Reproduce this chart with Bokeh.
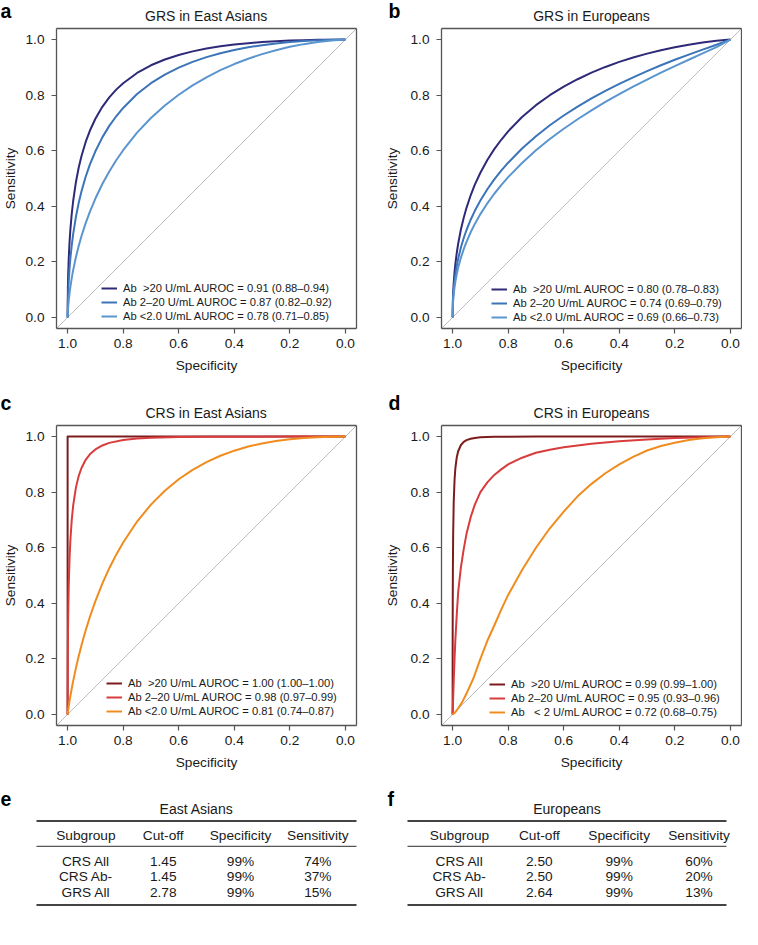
from bokeh.plotting import figure
from bokeh.models import (Range1d, FixedTicker, PrintfTickFormatter, Slope, Legend,
                          LegendItem, ColumnDataSource, LinearAxis)
from bokeh.layouts import column, row
from bokeh.embed import file_html
from bokeh.resources import INLINE
from bokeh.core.properties import value

# ---------------- data ----------------
tick_values = [0.0, 0.2, 0.4, 0.6, 0.8, 1.0]

spec_grid = [1.0, 0.999, 0.998, 0.996, 0.993, 0.99, 0.985, 0.98, 0.97, 0.96, 0.95, 0.935,
             0.92, 0.9, 0.875, 0.85, 0.825, 0.8, 0.75, 0.7, 0.65, 0.6, 0.55, 0.5, 0.45,
             0.4, 0.35, 0.3, 0.25, 0.2, 0.15, 0.1, 0.05, 0.0]

# GRS in East Asians (sensitivity at spec_grid)
grs_ea_gt20 = [0, .1075, .152, .2113, .272, .317, .3745, .419, .4876, .5394, .581, .6316,
               .6718, .715, .758, .792, .820, .843, .880, .9076, .9285, .9448, .9576, .9678,
               .9759, .9823, .9873, .9912, .9942, .9964, .998, .9991, .9998, 1.0]
grs_ea_2to20 = [0, .0594, .0888, .131, .177, .213, .261, .300, .3628, .4125, .4542, .5064,
                .5497, .598, .648, .6894, .724, .754, .804, .843, .874, .899, .9198, .937,
                .951, .9627, .9722, .980, .9863, .9912, .9949, .9975, .9993, 1.0]
grs_ea_lt2 = [0, .0233, .0377, .0603, .0874, .110, .1423, .170, .2174, .2575, .2929, .3395,
              .380, .4278, .480, .5255, .5655, .6018, .665, .7177, .7627, .8015, .835, .8643,
              .890, .912, .9312, .9478, .962, .974, .9837, .9914, .997, 1.0]

# GRS in Europeans
grs_eu_gt20 = [0, .0619, .088, .1243, .163, .193, .2327, .265, .3174, .359, .3944, .4396,
               .4777, .5207, .5667, .6057, .6394, .6697, .7214, .764, .7998, .8307, .8574,
               .881, .9016, .9197, .9356, .9496, .9619, .9726, .9818, .9895, .9957, 1.0]
grs_eu_2to20 = [0, .0537, .0742, .1022, .1322, .155, .186, .2113, .2524, .2857, .3146, .3516,
                .3836, .4207, .4614, .4968, .5283, .5569, .608, .652, .6915, .7267, .7586,
                .7881, .8154, .8406, .8643, .8867, .9076, .9274, .9461, .9641, .9814, 1.0]
grs_eu_lt2 = [0, .0428, .0599, .0835, .109, .129, .156, .1783, .2153, .2457, .272, .3065,
              .3365, .3718, .4106, .4451, .476, .5048, .556, .6014, .642, .679, .7133, .7454,
              .7755, .8037, .8305, .856, .8808, .9046, .9276, .9502, .973, 1.0]

# CRS in East Asians
crs_ea_gt20_spec = [1.0, 1.0, 0.0]
crs_ea_gt20 = [0.0, 1.0, 1.0]
crs_ea_2to20_spec = [1.0, 0.9999, 0.9998, 0.9995, 0.999, 0.998, 0.996, 0.993, 0.99, 0.985,
                     0.98, 0.97, 0.96, 0.95, 0.935, 0.92, 0.9, 0.875, 0.85, 0.8, 0.75, 0.7,
                     0.6, 0.5, 0.4, 0.2, 0.0]
crs_ea_2to20 = [0, .0688, .1053, .1767, .2524, .348, .461, .562, .628, .7016, .7517, .8173,
                .8586, .887, .9165, .9361, .9539, .9682, .9774, .988, .9933, .9962, .9987,
                .9996, .9999, 1.0, 1.0]
crs_ea_lt2 = [0, .0073, .0146, .0284, .0477, .0658, .094, .1198, .1673, .2101, .2492, .3026,
              .3505, .4075, .471, .5263, .575, .619, .6943, .7552, .8051, .8464, .8802,
              .9082, .9311, .9494, .9641, .9755, .9843, .9908, .9953, .9981, .9996, 1.0]

# CRS in Europeans
crs_eu_gt20_spec = [1.0, .9999, .9998, .9995, .999, .998, .996, .993, .99, .985, .98, .97,
                    .96, .95, .935, .92, .9, .875, .85, .8, .7, .5, 0.0]
crs_eu_gt20 = [0, .1897, .271, .4063, .526, .649, .765, .8447, .887, .9258, .9473, .9698,
               .981, .9872, .9924, .9952, .9973, .9985, .9992, .9997, 1.0, 1.0, 1.0]
crs_eu_2to20_spec = [1.0, .999, .998, .996, .993, .99, .985, .98, .97, .96, .95, .935, .92,
                     .9, .875, .85, .825, .8, .75, .7, .65, .6, .5, .4, .3, .2, .1, 0.0]
crs_eu_2to20 = [0, .03, .06, .12, .20, .27, .36, .44, .53, .595, .65, .71, .755, .80, .835,
                .862, .882, .90, .924, .942, .953, .962, .974, .983, .99, .995, .998, 1.0]
crs_eu_lt2_spec = [1.0, .99, .98, .965, .95, .925, .9, .875, .85, .825, .8, .75, .7, .65,
                   .6, .55, .5, .45, .4, .35, .3, .25, .2, .15, .1, .05, 0.0]
crs_eu_lt2 = [0, .008, .022, .045, .075, .13, .20, .265, .32, .377, .43, .52, .60, .67, .73,
              .785, .83, .868, .90, .927, .95, .966, .978, .988, .994, .998, 1.0]

labels_grs_ea = ["Ab\u00a0 >20 U/mL AUROC = 0.91 (0.88\u20130.94)",
                 "Ab 2\u201320 U/mL AUROC = 0.87 (0.82\u20130.92)",
                 "Ab <2.0 U/mL AUROC = 0.78 (0.71\u20130.85)"]
labels_grs_eu = ["Ab\u00a0 >20 U/mL AUROC = 0.80 (0.78\u20130.83)",
                 "Ab 2\u201320 U/mL AUROC = 0.74 (0.69\u20130.79)",
                 "Ab <2.0 U/mL AUROC = 0.69 (0.66\u20130.73)"]
labels_crs_ea = ["Ab\u00a0 >20 U/mL AUROC = 1.00 (1.00\u20131.00)",
                 "Ab 2\u201320 U/mL AUROC = 0.98 (0.97\u20130.99)",
                 "Ab <2.0 U/mL AUROC = 0.81 (0.74\u20130.87)"]
labels_crs_eu = ["Ab\u00a0 >20 U/mL AUROC = 0.99 (0.99\u20131.00)",
                 "Ab 2\u201320 U/mL AUROC = 0.95 (0.93\u20130.96)",
                 "Ab\u00a0\u00a0 < 2 U/mL AUROC = 0.72 (0.68\u20130.75)"]

table_cols = ["Subgroup", "Cut-off", "Specificity", "Sensitivity"]
subgroups = ["CRS All", "CRS Ab-", "GRS All"]
ea_cutoff = [1.45, 1.45, 2.78]
ea_specificity = [99, 99, 99]
ea_sensitivity = [74, 37, 15]
eu_cutoff = [2.50, 2.50, 2.64]
eu_specificity = [99, 99, 99]
eu_sensitivity = [60, 20, 13]

# ---------------- style ----------------
FONT = "Liberation Sans"
TXT = "#1a1a1a"
FRAME = "#555555"
BLUES = ["#2e2a78", "#3b74b8", "#5b95cf"]
REDS = ["#7d1c1c", "#d83c3c", "#f08c1e"]


def bare(p):
    p.xaxis.visible = False
    p.yaxis.visible = False
    p.grid.visible = False
    p.outline_line_color = None


def strip_fig(width, height, letter, letter_x, letter_y, title, title_x, title_y):
    p = figure(width=width, height=height, output_backend="svg", toolbar_location=None,
               x_range=Range1d(0, width), y_range=Range1d(0, height), min_border=0)
    bare(p)
    p.text(x=[letter_x], y=[letter_y], text=[letter], text_font=value(FONT),
           text_font_size="19.5px", text_font_style="bold", text_color="#000000",
           text_align="left", text_baseline="middle")
    p.text(x=[title_x], y=[title_y], text=[title], text_font=value(FONT),
           text_font_size="14px", text_color=TXT, text_align="center",
           text_baseline="middle")
    return p


def roc_fig(width, height, bl, br, bt, bb, curves, labels, colors, leg_xy, ylab_standoff):
    p = figure(width=width, height=height, output_backend="svg", toolbar_location=None,
               x_range=Range1d(1.04, -0.04), y_range=Range1d(-0.04, 1.04),
               min_border_left=bl, min_border_right=br, min_border_top=bt,
               min_border_bottom=bb)
    p.grid.visible = False
    p.outline_line_color = None
    for ax in (p.xaxis, p.yaxis):
        ax.ticker = FixedTicker(ticks=tick_values)
        ax.formatter = PrintfTickFormatter(format="%.1f")
        ax.axis_line_color = FRAME
        ax.axis_line_width = 1.3
        ax.major_tick_in = 0
        ax.major_tick_out = 5
        ax.major_tick_line_color = FRAME
        ax.major_tick_line_width = 1.2
        ax.minor_tick_line_color = None
        ax.major_label_text_font = FONT
        ax.major_label_text_font_size = "13.7px"
        ax.major_label_text_color = TXT
        ax.axis_label_text_font = FONT
        ax.axis_label_text_font_size = "13.7px"
        ax.axis_label_text_font_style = "normal"
        ax.axis_label_text_color = TXT
    p.xaxis.axis_label = "Specificity"
    p.yaxis.axis_label = "Sensitivity"
    p.xaxis.major_label_standoff = 5
    p.yaxis.major_label_standoff = 7
    p.xaxis.axis_label_standoff = 7
    p.yaxis.axis_label_standoff = ylab_standoff
    for loc in ("above", "right"):
        ax = LinearAxis(ticker=FixedTicker(ticks=[]), major_tick_in=0, major_tick_out=0,
                        minor_tick_in=0, minor_tick_out=0, major_label_standoff=0,
                        axis_label_standoff=0, major_label_text_font_size="0px",
                        axis_line_color=FRAME, axis_line_width=1.3)
        p.add_layout(ax, loc)

    p.add_layout(Slope(gradient=-1, y_intercept=1, line_color="#bdbdbd", line_width=1,
                       level="underlay"))
    items = []
    for (sx, sy), lab, col in zip(curves, labels, colors):
        r = p.line(sx, sy, line_color=col, line_width=2, line_join="round")
        items.append(LegendItem(label=lab, renderers=[r]))
    leg = Legend(items=items, location=leg_xy, border_line_color=None,
                 background_fill_alpha=0, padding=0, margin=0, spacing=2,
                 glyph_width=16, glyph_height=12, label_height=12, label_standoff=6,
                 label_text_font=FONT, label_text_font_size="11.2px",
                 label_text_color=TXT)
    p.add_layout(leg)
    return p


ROW_PX = 15.25


def table_fig(width, rule_left, rule_right, x_start, x_end, cutoff, specificity,
              sensitivity):
    """x_start/x_end: column-index values at the ends of the horizontal rules,
    which lie rule_left px from the left edge and rule_right px from the right edge."""
    fig_h = 107
    zero_px = 27.9          # distance of the header rule below the top edge
    unit = (width - rule_left - rule_right) / (x_end - x_start)
    p = figure(width=width, height=fig_h, output_backend="svg", toolbar_location=None,
               x_range=Range1d(x_start - rule_left / unit, x_end + rule_right / unit),
               y_range=Range1d(-(fig_h - zero_px) / ROW_PX, zero_px / ROW_PX),
               min_border=0)
    bare(p)
    kw = dict(text_font=value(FONT), text_font_size="13.7px", text_color=TXT,
              text_align="center", text_baseline="middle")
    p.text(x=list(range(len(table_cols))), y=[0] * len(table_cols), text=table_cols,
           y_offset=-10.8, **kw)
    xs, ys, ts = [], [], []
    for i in range(len(subgroups)):
        cells = [subgroups[i], "%.2f" % cutoff[i], "%d%%" % specificity[i],
                 "%d%%" % sensitivity[i]]
        for j, c in enumerate(cells):
            xs.append(j)
            ys.append(-(i + 1))
            ts.append(c)
    p.text(x="x", y="y", text="t", source=ColumnDataSource(dict(x=xs, y=ys, t=ts)), **kw)
    top_rule = 25.5 / ROW_PX
    bottom_rule = -58.7 / ROW_PX
    p.segment(x0=[x_start, x_start], x1=[x_end, x_end], y0=[top_rule, bottom_rule],
              y1=[top_rule, bottom_rule], line_color="#444444", line_width=2)
    p.segment(x0=[x_start], x1=[x_end], y0=[0], y1=[0], line_color="#555555",
              line_width=1.1)
    return p


sa = strip_fig(370, 27, "a", 0, 16.1, "GRS in East Asians", 206, 11.8)
sb = strip_fig(372, 27, "b", 18, 16.1, "GRS in Europeans", 221, 11.8)
pa = roc_fig(370, 365, 56, 14, 1, 64,
             [(spec_grid, grs_ea_gt20), (spec_grid, grs_ea_2to20), (spec_grid, grs_ea_lt2)],
             labels_grs_ea, BLUES, (45, 5.7), 4)
pb = roc_fig(372, 365, 71, 1, 1, 64,
             [(spec_grid, grs_eu_gt20), (spec_grid, grs_eu_2to20), (spec_grid, grs_eu_lt2)],
             labels_grs_eu, BLUES, (50, 4.8), 7)

sc = strip_fig(370, 32, "c", 0, 21.6, "CRS in East Asians", 206, 11.2)
sd = strip_fig(372, 32, "d", 18, 21.6, "CRS in Europeans", 221, 11.2)
pc = roc_fig(370, 364, 56, 14, 1, 63,
             [(crs_ea_gt20_spec, crs_ea_gt20), (crs_ea_2to20_spec, crs_ea_2to20),
              (spec_grid, crs_ea_lt2)],
             labels_crs_ea, REDS, (50, 7.7), 4)
pd_ = roc_fig(372, 364, 71, 1, 1, 63,
              [(crs_eu_gt20_spec, crs_eu_gt20), (crs_eu_2to20_spec, crs_eu_2to20),
               (crs_eu_lt2_spec, crs_eu_lt2)],
              labels_crs_eu, REDS, (48, 6.7), 7)

se = strip_fig(370, 30, "e", 0, 19.1, "East Asians", 196, 9.7)
sf = strip_fig(372, 30, "f", 17, 19.1, "Europeans", 196.5, 9.7)
pe = table_fig(370, 36, 14, -0.639, 3.5, ea_cutoff, ea_specificity, ea_sensitivity)
pf = table_fig(372, 37, 16, -0.651, 3.344, eu_cutoff, eu_specificity, eu_sensitivity)

layout = column(row(sa, sb), row(pa, pb), row(sc, sd), row(pc, pd_), row(se, sf),
                row(pe, pf))
open("out.html", "w").write(file_html(layout, INLINE))
